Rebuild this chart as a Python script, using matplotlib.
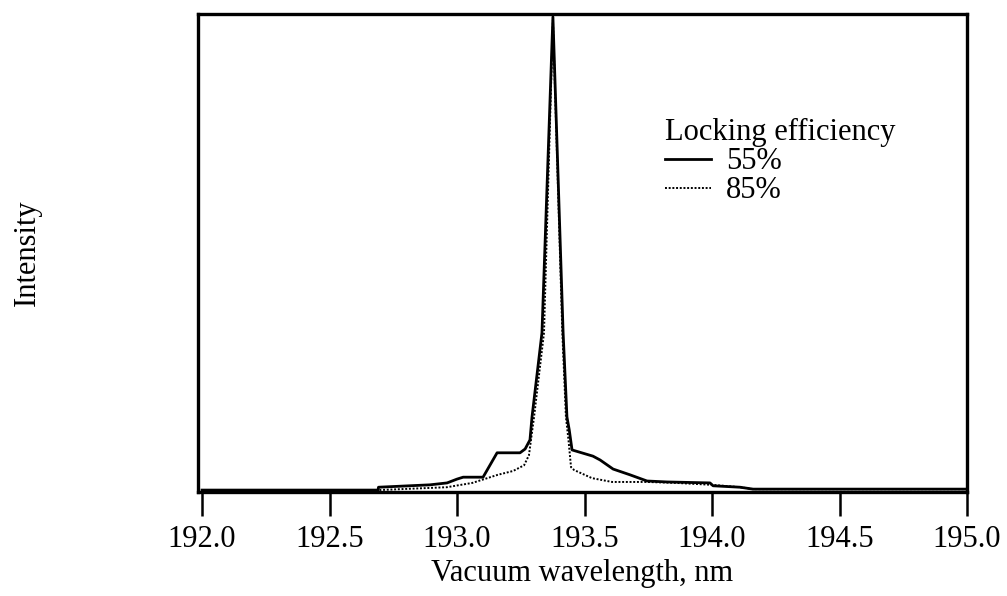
import matplotlib
matplotlib.use("Agg")
import matplotlib.pyplot as plt

plt.rcParams['font.family'] = ['Liberation Serif', 'DejaVu Serif']

# 55% locking efficiency (solid)
wl_55 = [192.0, 192.690, 192.692, 192.894, 192.961, 193.000, 193.024, 193.102,
         193.157, 193.247, 193.267, 193.286, 193.294, 193.333, 193.376,
         193.416, 193.431, 193.440, 193.451, 193.533, 193.561, 193.612,
         193.678, 193.745, 193.824, 193.992, 194.004, 194.110, 194.161, 195.0]
int_55 = [0.004, 0.004, 0.010, 0.015, 0.019, 0.027, 0.031, 0.031,
          0.082, 0.082, 0.090, 0.109, 0.157, 0.333, 0.994,
          0.333, 0.157, 0.130, 0.088, 0.075, 0.067, 0.048,
          0.036, 0.023, 0.021, 0.019, 0.013, 0.010, 0.006, 0.006]

# 85% locking efficiency (dotted)
wl_85 = [192.0, 192.690, 192.960, 193.060, 193.160, 193.220, 193.263, 193.282,
         193.290, 193.302, 193.341, 193.376, 193.413, 193.427, 193.437,
         193.447, 193.459, 193.529, 193.608, 193.745, 193.860, 194.000,
         194.110, 194.160, 195.0]
int_85 = [0.004, 0.004, 0.010, 0.019, 0.036, 0.044, 0.056, 0.077,
          0.109, 0.157, 0.333, 0.987, 0.333, 0.157, 0.109,
          0.052, 0.046, 0.029, 0.021, 0.021, 0.019, 0.015,
          0.010, 0.006, 0.006]

xticks = [192.0, 192.5, 193.0, 193.5, 194.0, 194.5, 195.0]

fs = 22

fig = plt.figure(figsize=(10.07, 5.96), dpi=100)
ax = fig.add_axes([0.1966, 0.1745, 0.7637, 0.802])

ax.plot(wl_55, int_55, color='black', lw=2.0, label='55%')
ax.plot(wl_85, int_85, color='black', lw=1.4, dashes=(1, 0.9), label='85%')

ax.set_xlim(191.984, 195.0)
ax.set_ylim(0, 1)
ax.set_xticks(xticks)
ax.set_xticklabels(['%.1f' % t for t in xticks])
ax.set_yticks([])
ax.tick_params(axis='x', direction='out', length=17, width=1.8, pad=7, labelsize=fs)
for s in ax.spines.values():
    s.set_linewidth(2.4)

ax.set_xlabel('Vacuum wavelength, nm', fontsize=fs)
ax.xaxis.set_label_coords(0.5, -0.14)
ax.set_ylabel('Intensity', fontsize=fs)
ax.yaxis.set_label_coords(-0.203, 0.5)

ax.legend(title='Locking efficiency', loc='upper left',
          bbox_to_anchor=(665 / 1007, 1 - 118 / 596), bbox_transform=fig.transFigure,
          frameon=False, fontsize=fs, title_fontsize=fs, alignment='left',
          handlelength=1.5, handletextpad=0.5, labelspacing=0.0,
          borderpad=0, borderaxespad=0, handleheight=0.5)

fig.savefig('out.png', dpi=100)
